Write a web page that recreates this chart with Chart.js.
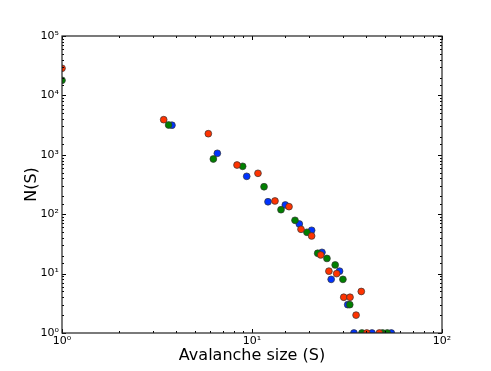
<!DOCTYPE html>
<html>
<head>
<meta charset="utf-8">
<script src="https://cdn.jsdelivr.net/npm/chart.js@4/dist/chart.umd.min.js"></script>
<style>
html,body{margin:0;padding:0;background:#fff;}
#wrap{width:491px;height:371px;position:relative;}
</style>
</head>
<body>
<div id="wrap"><canvas id="c" width="491" height="371"></canvas></div>
<script>
// Avalanche size S (x) and count N(S) (y), three runs
const redX   = [1, 3.43, 5.89, 8.34, 10.75, 13.21, 15.66, 18.11, 20.6, 23.0, 25.4, 27.9, 30.4, 32.8, 35.3, 37.6, 40.2, 46.8];
const redY   = [28600, 3900, 2265, 673, 488, 167, 134, 55.7, 43, 20.6, 11, 10, 4, 4, 2, 5, 1, 1];
const greenX = [1, 3.64, 6.26, 8.93, 11.57, 14.21, 16.84, 19.46, 22.17, 24.8, 27.4, 30.1, 32.7, 37.9, 48.7, 51.5];
const greenY = [17950, 3175, 850, 640, 290, 119, 78.9, 49.6, 22, 18, 14, 8, 3, 1, 1, 1];
const blueX  = [3.79, 6.57, 9.38, 12.14, 14.97, 17.74, 20.6, 23.35, 26.1, 28.9, 31.9, 34.4, 42.8, 54.1];
const blueY  = [3150, 1060, 434, 162, 143, 68.4, 53.6, 22.8, 8, 11, 3, 1, 1, 1];
const xTickLabels = {1: '10\u2070', 10: '10\u00B9', 100: '10\u00B2'};
const yTickLabels = {1: '10\u2070', 10: '10\u00B9', 100: '10\u00B2', 1000: '10\u00B3', 10000: '10\u2074', 100000: '10\u2075'};

function pts(xs, ys){ return xs.map((x,i)=>({x:x, y:ys[i]})); }
function ds(xs, ys, color){
  return {data: pts(xs, ys), backgroundColor: color, borderColor: '#333', borderWidth: 0.7,
          pointRadius: 3.4, pointHoverRadius: 3.4, clip: 0};
}

function isDecade(v){ const l = Math.log10(v); return Math.abs(l - Math.round(l)) < 1e-9; }

const tickPlugin = {
  id: 'inTicks',
  afterDatasetsDraw(chart){
    const {ctx, chartArea: a, scales} = chart;
    ctx.save();
    ctx.strokeStyle = '#000';
    ctx.lineWidth = 1;
    ctx.beginPath();
    scales.x.ticks.forEach(t => {
      const px = Math.round(scales.x.getPixelForValue(t.value)) + 0.5;
      const len = isDecade(t.value) ? 4 : 2;
      ctx.moveTo(px, a.bottom); ctx.lineTo(px, a.bottom - len);
      ctx.moveTo(px, a.top); ctx.lineTo(px, a.top + len);
    });
    scales.y.ticks.forEach(t => {
      const py = Math.round(scales.y.getPixelForValue(t.value)) + 0.5;
      const len = isDecade(t.value) ? 4 : 2;
      ctx.moveTo(a.left, py); ctx.lineTo(a.left + len, py);
      ctx.moveTo(a.right, py); ctx.lineTo(a.right - len, py);
    });
    ctx.stroke();
    ctx.lineWidth = 1.2;
    ctx.strokeStyle = '#222';
    ctx.strokeRect(a.left, a.top, a.right - a.left, a.bottom - a.top);
    ctx.restore();
  }
};

new Chart(document.getElementById('c'), {
  type: 'scatter',
  data: { datasets: [ ds(redX, redY, '#ff3300'), ds(greenX, greenY, '#008000'), ds(blueX, blueY, '#0033ff') ] },
  options: {
    responsive: false,
    animation: false,
    events: [],
    layout: { padding: { left: 22, top: 36, right: 49, bottom: 6 } },
    plugins: { legend: { display: false }, tooltip: { enabled: false } },
    scales: {
      x: {
        type: 'logarithmic', min: 1, max: 100,
        grid: { display: false, drawTicks: false },
        border: { display: false },
        ticks: { autoSkip: false, maxRotation: 0, padding: 2, color: '#000',
                 font: { family: 'DejaVu Sans', size: 11 },
                 callback: (v) => xTickLabels[v] !== undefined ? xTickLabels[v] : '' },
        title: { display: true, text: 'Avalanche size (S)', color: '#000',
                 font: { family: 'DejaVu Sans', size: 16 }, padding: { top: 0, bottom: 0 } },
        afterFit(s){ s.height = 32; }
      },
      y: {
        type: 'logarithmic', min: 1, max: 100000,
        grid: { display: false, drawTicks: false },
        border: { display: false },
        ticks: { autoSkip: false, padding: 3, color: '#000',
                 font: { family: 'DejaVu Sans', size: 11 },
                 callback: (v) => yTickLabels[v] !== undefined ? yTickLabels[v] : '' },
        title: { display: true, text: 'N(S)', color: '#000',
                 font: { family: 'DejaVu Sans', size: 16 }, padding: { top: 0, bottom: 0 } },
        afterFit(s){ s.width = 40; }
      }
    }
  },
  plugins: [tickPlugin]
});
</script>
</body>
</html>
